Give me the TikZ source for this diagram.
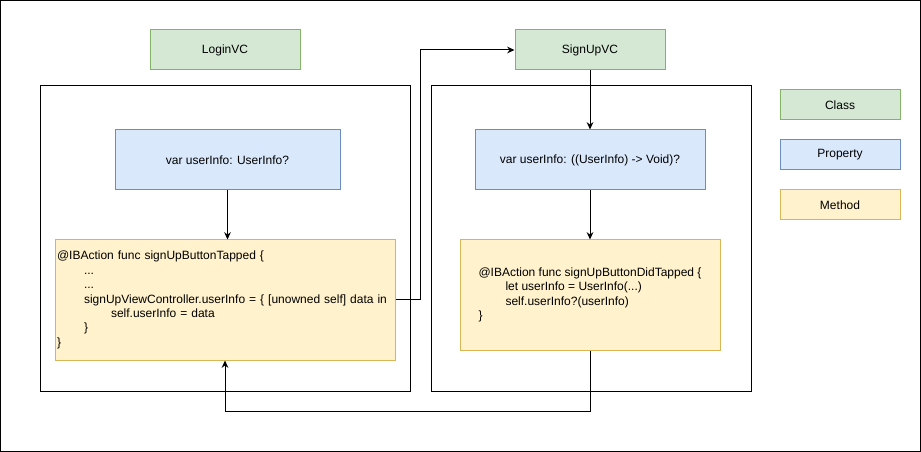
\documentclass[tikz,border=0pt]{standalone}
\usepackage{fontspec}
\setmainfont{Liberation Sans}
\usepackage[usenames,svgnames,dvipsnames]{xcolor}
\usetikzlibrary{arrows,arrows.meta}
\definecolor{clsfill}{HTML}{D5E8D4}
\definecolor{clsline}{HTML}{82B366}
\definecolor{propfill}{HTML}{DAE8FC}
\definecolor{propline}{HTML}{6C8EBF}
\definecolor{methfill}{HTML}{FFF2CC}
\definecolor{methline}{HTML}{D6B656}
\newcommand{\tabin}{\hspace*{20.25pt}}

\begin{document}
\begin{tikzpicture}[x=0.75pt,y=-0.75pt,
    font=\fontsize{9}{10.8}\selectfont,
    every node/.style={inner sep=1.5pt},
    cls/.style={draw=clsline,fill=clsfill,line width=0.75pt,
      minimum width=112.5pt,minimum height=30pt},
    prop/.style={draw=propline,fill=propfill,line width=0.75pt},
    meth/.style={draw=methline,fill=methfill,line width=0.75pt,align=left},
    frame/.style={draw=black,line width=0.75pt},
    link/.style={line width=0.75pt,-{Stealth[length=5.5pt,width=5pt]}}]
      % Set up the frame and the two view controllers
      \useasboundingbox (0,0) rectangle (921,452);
      \draw[frame] (0.5,0.5) rectangle (920.5,451.5);
      \node[frame,minimum width=277.5pt,minimum height=228.75pt] (lbox) at (225,238.5) {};
      \node[frame,minimum width=240pt,minimum height=228.75pt] (rbox) at (591,238.5) {};
      \node[cls] (login) at (225,50) {LoginVC};
      \node[cls] (signup) at (590,50) {SignUpVC};
      % LoginVC
      \node[prop,minimum width=168.75pt,minimum height=45pt] (lprop) at (227.5,160)
        {var userInfo: UserInfo?};
      \node[meth,text width=252pt,minimum height=90pt] (lmeth) at (225,300)
        {@IBAction func signUpButtonTapped \{\\
         \tabin...\\
         \tabin...\\
         \tabin signUpViewController.userInfo = \{ [unowned self] data in\\
         \tabin\tabin self.userInfo = data\\
         \tabin\}\\
         \}};
      % SignUpVC
      \node[prop,minimum width=172.5pt,minimum height=45pt] (rprop) at (590,160)
        {var userInfo: ((UserInfo) -> Void)?};
      \node[meth,minimum width=195pt,minimum height=82.5pt] (rmeth) at (590,295)
        {@IBAction func signUpButtonDidTapped \{\\
         \tabin let userInfo = UserInfo(...)\\
         \tabin self.userInfo?(userInfo)\\
         \}};
      % Legend
      \node[cls,minimum width=90pt,minimum height=22.5pt] (lgcls) at (840,105) {Class};
      \node[prop,minimum width=90pt,minimum height=22.5pt] (lgprop) at (840,155) {Property};
      \node[meth,minimum width=90pt,minimum height=22.5pt] (lgmeth) at (840,205) {Method};
      % Connectors
      \coordinate (turn) at (420,300);
      \coordinate (back) at (0,411);
      \draw[link] (lprop.south) -- (lprop.south |- lmeth.north);
      \draw[link] (signup.south) -- (rprop.north);
      \draw[link] (rprop.south) -- (rmeth.north);
      \draw[link] (lmeth.east) -- (turn) |- (signup.west);
      \draw[link] (rmeth.south) -- (rmeth.south |- back) -| (lmeth.south);
    \end{tikzpicture}
\end{document}
